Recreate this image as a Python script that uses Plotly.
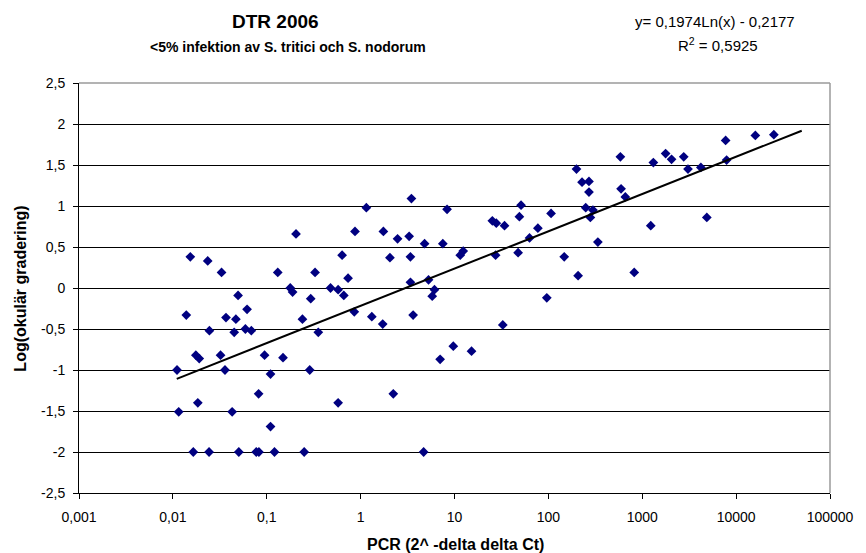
import numpy as np
import plotly.graph_objects as go

# PCR ratio (2^-ddCt) against log of the visual disease score, DTR 2006
pcr = [
    0.01534, 0.0235, 0.0330, 0.131, 0.327, 0.635, 0.735, 0.0495, 0.178, 0.1885,
    0.478, 0.576, 0.662, 0.294, 0.0139, 0.0368, 0.0469, 0.0617, 0.240, 0.856,
    1.316, 1.719, 0.0245, 0.0450, 0.0592, 0.0685, 0.354, 0.01757, 0.0191, 0.0322,
    0.0948, 0.149, 0.01107, 0.0359, 0.1097, 0.287, 0.0819, 0.01844, 0.576, 0.01154,
    0.0428, 0.1097, 0.0165, 0.0243, 0.0504, 0.0773, 0.0825, 0.1209, 0.2505,
    199.3, 228.4, 270.7, 270.7, 594.8, 3.476, 8.334, 51.16, 49.1, 249.9,
    298.3, 280.1, 106.8, 25.3, 27.87, 34.1, 1.748, 2.475, 3.288, 4.80,
    7.51, 77.3, 63.0, 336.8, 2.052, 3.393, 12.38, 11.51, 27.4, 47.6,
    147.5, 207.3, 3.393, 5.29, 6.12, 5.79, 96.2, 3.624, 32.7, 9.71,
    7.03, 15.18, 2.229, 4.69,
    584.8, 1313, 1774, 2052, 2767, 3071, 4211, 7731, 16020, 25230,
    7920, 660, 1232, 4873, 821.5,
    0.205, 1.151, 0.871,
]
log_score = [
    0.38, 0.33, 0.19, 0.19, 0.19, 0.40, 0.12, -0.09, 0.00, -0.05,
    0.00, -0.02, -0.09, -0.13, -0.33, -0.36, -0.38, -0.26, -0.38, -0.29,
    -0.35, -0.44, -0.52, -0.54, -0.50, -0.52, -0.54, -0.82, -0.86, -0.82,
    -0.82, -0.85, -1.00, -1.00, -1.05, -1.00, -1.29, -1.40, -1.40, -1.51,
    -1.51, -1.69, -2.00, -2.00, -2.00, -2.00, -2.00, -2.00, -2.00,
    1.45, 1.29, 1.30, 1.17, 1.21, 1.09, 0.96, 1.01, 0.87, 0.98,
    0.95, 0.86, 0.91, 0.82, 0.79, 0.76, 0.69, 0.60, 0.63, 0.54,
    0.54, 0.73, 0.61, 0.56, 0.37, 0.38, 0.45, 0.40, 0.40, 0.43,
    0.38, 0.15, 0.07, 0.10, -0.02, -0.10, -0.12, -0.33, -0.45, -0.71,
    -0.87, -0.77, -1.29, -2.00,
    1.60, 1.53, 1.64, 1.57, 1.60, 1.45, 1.47, 1.80, 1.86, 1.87,
    1.56, 1.11, 0.76, 0.86, 0.19,
    0.66, 0.98, 0.69,
]

# Logarithmic trend line: y = 0,1974 Ln(x) - 0,2177
trend_a = 0.1974
trend_b = -0.2177
trend_range = [0.011, 50000]

x_ticks = [0.001, 0.01, 0.1, 1, 10, 100, 1000, 10000, 100000]
x_ticktext = ["0,001", "0,01", "0,1", "1", "10", "100", "1000", "10000", "100000"]
y_ticks = [2.5, 2, 1.5, 1, 0.5, 0, -0.5, -1, -1.5, -2, -2.5]
y_ticktext = ["2,5", "2", "1,5", "1", "0,5", "0", "-0,5", "-1", "-1,5", "-2", "-2,5"]

FONT = "Arial, Liberation Sans, sans-serif"

trend_x = np.logspace(np.log10(trend_range[0]), np.log10(trend_range[1]), 200)
trend_y = trend_a * np.log(trend_x) + trend_b

fig = go.Figure()
fig.add_trace(go.Scatter(
    x=pcr, y=log_score, mode="markers",
    marker=dict(symbol="diamond", size=7.5, color="#000080", line=dict(width=0)),
    showlegend=False, hoverinfo="x+y",
))
fig.add_trace(go.Scatter(
    x=trend_x, y=trend_y, mode="lines",
    line=dict(color="black", width=2),
    showlegend=False, hoverinfo="skip",
))

fig.update_layout(
    width=866, height=553,
    margin=dict(l=79, r=28, t=83, b=60),
    paper_bgcolor="white", plot_bgcolor="white",
    font=dict(family=FONT, color="black"),
    xaxis=dict(
        type="log", range=[-3, 5],
        tickvals=x_ticks, ticktext=x_ticktext,
        showgrid=False, zeroline=False,
        showline=True, linecolor="black", linewidth=1,
        ticks="outside", ticklen=5, tickcolor="black",
        tickfont=dict(size=14, family=FONT, color="black"),
        ticklabelstandoff=6,
    ),
    yaxis=dict(
        range=[-2.5, 2.5],
        tickvals=y_ticks, ticktext=y_ticktext,
        showgrid=True, gridcolor="black", gridwidth=1,
        zeroline=False,
        showline=True, linecolor="black", linewidth=1,
        ticks="outside", ticklen=5, tickcolor="black",
        tickfont=dict(size=14, family=FONT, color="black"),
        ticklabelstandoff=5,
    ),
    shapes=[
        dict(type="line", xref="paper", yref="paper", x0=0, y0=1, x1=1, y1=1,
             line=dict(color="#9a9a9a", width=1.5), layer="above"),
        dict(type="line", xref="paper", yref="paper", x0=1, y0=0, x1=1, y1=1,
             line=dict(color="#9a9a9a", width=1.5), layer="above"),
    ],
    annotations=[
        dict(text="<b>DTR 2006</b>", xref="paper", yref="paper",
             x=0.2615, y=1.1488, xanchor="center", yanchor="middle",
             showarrow=False, font=dict(size=19, family=FONT)),
        dict(text="<b>&lt;5% infektion av S. tritici och S. nodorum</b>",
             xref="paper", yref="paper", x=0.278, y=1.0878,
             xanchor="center", yanchor="middle", showarrow=False,
             font=dict(size=14, family=FONT)),
        dict(text="y= 0,1974Ln(x) - 0,2177", xref="paper", yref="paper",
             x=0.847, y=1.1488, xanchor="center", yanchor="middle",
             showarrow=False, font=dict(size=15, family=FONT)),
        dict(text="R<sup>2</sup> = 0,5925", xref="paper", yref="paper",
             x=0.851, y=1.0951, xanchor="center", yanchor="middle",
             showarrow=False, font=dict(size=15, family=FONT)),
        dict(text="<b>Log(okulär gradering)</b>", xref="paper", yref="paper",
             x=-0.0777, y=0.4976, xanchor="center", yanchor="middle",
             textangle=-90, showarrow=False, font=dict(size=16, family=FONT)),
        dict(text="<b>PCR (2^ -delta delta Ct)</b>", xref="paper", yref="paper",
             x=0.5007, y=-0.1268, xanchor="center", yanchor="middle",
             showarrow=False, font=dict(size=16, family=FONT)),
    ],
)

fig.write_html("out.html")
